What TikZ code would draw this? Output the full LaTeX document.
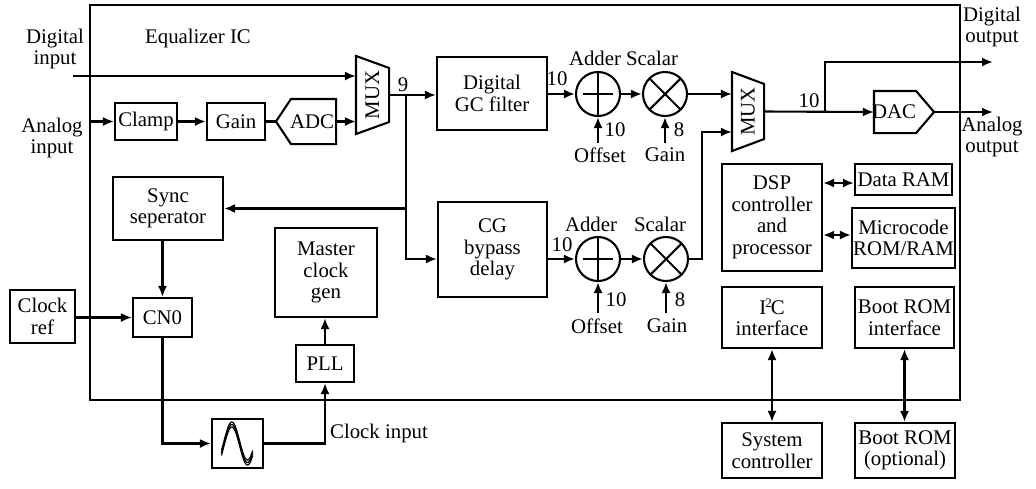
\documentclass[tikz,border=0pt]{standalone}
\usepackage{fontspec}
\setmainfont{Liberation Serif}
\usetikzlibrary{arrows.meta,calc}
\begin{document}
\begin{tikzpicture}[x=0.5pt,y=-0.5pt, line width=1.05pt,
  every node/.style={font=\fontsize{10.4}{10.8}\selectfont},
  box/.style={draw, line width=1.05pt, align=center, inner sep=0pt},
  arr/.style={-{Latex[length=5.5pt,width=4.5pt]}},
  darr/.style={{Latex[length=5.5pt,width=4.5pt]}-{Latex[length=5.5pt,width=4.5pt]}},
  lbl/.style={align=center, inner sep=0pt},
  hold/.style={inner sep=0pt},
  adder/.style={circle, draw, minimum size=22pt, inner sep=0pt,
    path picture={
      \draw ([xshift=-7.5pt]path picture bounding box.center) -- ([xshift=7.5pt]path picture bounding box.center);
      \draw ([yshift=-11pt]path picture bounding box.center) -- ([yshift=11pt]path picture bounding box.center);}},
  scalar/.style={circle, draw, minimum size=22pt, inner sep=0pt,
    path picture={
      \draw (path picture bounding box.north west) -- (path picture bounding box.south east);
      \draw (path picture bounding box.south west) -- (path picture bounding box.north east);}}
]
\useasboundingbox (0,0) rectangle (1036,488);

% IC outline
\node[box, minimum width=435pt, minimum height=197.5pt] (ic) at (525,202.5) {};
\node[lbl] (eqic) at (198,38) {Equalizer IC};

% outside labels
\node[lbl] (dinl) at (55,49) {Digital\\input};
\node[lbl] (ainl) at (52,138) {Analog\\input};
\node[lbl] (doutl) at (992,27) {Digital\\output};
\node[lbl] (aoutl) at (992,137) {Analog\\output};

% analog front end
\node[box, minimum width=31pt, minimum height=18.5pt] (clamp) at (146,121.5) {Clamp};
\node[box, minimum width=29pt, minimum height=18.5pt] (gain) at (236,121.5) {Gain};
\node[hold, minimum width=29pt, minimum height=21.5pt] (adc) at (306,121.5) {};
\draw (adc.west) -- ($(adc.north west)+(15,0)$) -- (adc.north east) -- (adc.south east) -- ($(adc.south west)+(15,0)$) -- cycle;
\node[lbl] (adct) at (312,122) {ADC};

% MUX 1
\node[hold, minimum width=15.5pt, minimum height=38pt] (mux1) at (372.5,95) {};
\draw (mux1.north west) -- ($(mux1.north east)+(0,12)$) -- ($(mux1.south east)+(0,-12)$) -- (mux1.south west) -- cycle;
\node[lbl, rotate=90] (mux1t) at (mux1) {MUX};
\node[lbl] (l9) at (403,85) {9};

% filters
\node[box, minimum width=55pt, minimum height=36.5pt] (dgc) at (492,93.5) {Digital\\GC filter};
\node[box, minimum width=54.5pt, minimum height=47.5pt] (cg) at (492.5,249.5) {CG\\bypass\\delay};

% upper adder/scalar
\node[adder] (adder1) at (598,94) {};
\node[scalar] (scalar1) at (665,94) {};
\node[lbl] (l10a) at (557,79) {10};
\node[lbl] (adl1) at (595,58) {Adder};
\node[lbl] (scl1) at (652,58) {Scalar};
\node[lbl] (l10b) at (615,130) {10};
\node[lbl] (l8a) at (679,130) {8};
\node[lbl] (off1) at (600,155) {Offset};
\node[lbl] (gn1) at (665,155) {Gain};
\coordinate (o1) at (598,143);
\coordinate (g1) at (665,143);

% lower adder/scalar
\node[adder] (adder2) at (598,259) {};
\node[scalar] (scalar2) at (666,259) {};
\node[lbl] (l10c) at (562,245) {10};
\node[lbl] (adl2) at (591,224) {Adder};
\node[lbl] (scl2) at (660,224) {Scalar};
\node[lbl] (l10d) at (616,300) {10};
\node[lbl] (l8b) at (680,300) {8};
\node[lbl] (off2) at (597,326) {Offset};
\node[lbl] (gn2) at (667,326) {Gain};
\coordinate (o2) at (598,313);
\coordinate (g2) at (666,313);

% MUX 2
\node[hold, minimum width=15pt, minimum height=38.5pt] (mux2) at (748,111.5) {};
\draw (mux2.north west) -- ($(mux2.north east)+(0,12)$) -- ($(mux2.south east)+(0,-12)$) -- (mux2.south west) -- cycle;
\node[lbl, rotate=90] (mux2t) at (mux2) {MUX};
\node[lbl] (l10e) at (809,101) {10};

% DAC
\node[hold, minimum width=29pt, minimum height=20pt] (dac) at (904,112) {};
\draw (dac.north west) -- ($(dac.north east)+(-18,0)$) -- (dac.east) -- ($(dac.south east)+(-18,0)$) -- (dac.south west) -- cycle;
\node[lbl] (dact) at (894,112) {DAC};

% clock section
\node[box, minimum width=55pt, minimum height=31.5pt] (sync) at (168,208.5) {Sync\\seperator};
\node[box, minimum width=29.5pt, minimum height=19.5pt] (cn0) at (162.5,317.5) {CN0};
\node[box, minimum width=32.5pt, minimum height=26.5pt] (clkref) at (42.5,316.5) {Clock\\ref};
\node[box, minimum width=51pt, minimum height=44.5pt] (mcg) at (326,272.5) {Master\\clock\\gen};
\node[box, minimum width=29pt, minimum height=18.5pt] (pll) at (325,363.5) {PLL};
\node[box, minimum width=25.5pt, minimum height=24.5pt] (osc) at (237.5,443.5) {};
\begin{scope}[shift={(osc.center)}, line width=0.6pt]
  \foreach \dy in {-2.5,0,2.5}
    \draw plot[domain=-30:330, samples=40, smooth] ({\x/11.5-13.5}, {-19*sin(\x)+\dy});
\end{scope}
\node[lbl] (clkin) at (379,433) {Clock input};

% DSP section
\node[box, minimum width=50pt, minimum height=53.5pt] (dsp) at (772,217.5) {DSP\\controller\\and\\processor};
\node[box, minimum width=48.5pt, minimum height=15.5pt] (dram) at (903.5,179.5) {Data RAM};
\node[box, minimum width=51.5pt, minimum height=30pt] (mram) at (903.5,238) {Microcode\\ROM/RAM};
\node[box, minimum width=50pt, minimum height=30.5pt] (i2c) at (772,317.5) {I\kern-0.5pt\raisebox{0.7ex}{\fontsize{6.5}{6.5}\selectfont 2}\kern-0.5pt C\\interface};
\node[box, minimum width=49.5pt, minimum height=30.5pt] (bri) at (904.5,317.5) {Boot ROM\\interface};
\node[box, minimum width=50pt, minimum height=27.5pt] (sysc) at (772,450.5) {System\\controller};
\node[box, minimum width=50pt, minimum height=27.5pt] (brom) at (905,450.5) {Boot ROM\\(optional)};

% coordinates
\coordinate (din) at (73,76);
\coordinate (ain) at (90,121.5);
\coordinate (br) at (406,95);
\coordinate (m2in) at (702,132);
\coordinate (br2) at (825,112);
\coordinate (dout) at (993,62);
\coordinate (y183) at (0,183);
\coordinate (y235) at (0,235);

% connectors
\draw[arr] (din) -- (din -| mux1.west);
\draw[arr] (ain) -- (clamp.west);
\draw[arr] (clamp.east) -- (gain.west);
\draw (gain.east) -- (adc.west);
\draw[arr] (adc.east) -- (adc.east -| mux1.west);
\draw[arr] (mux1.east) -- (mux1.east -| dgc.west);
\draw[arr] (br) |- (cg.west |- adder2);
\draw[arr] (br |- sync.east) -- (sync.east);
\draw[arr] (dgc.east |- adder1) -- (adder1.west);
\draw[arr] (adder1.east) -- (scalar1.west);
\draw[arr] (scalar1.east) -- (scalar1.east -| mux2.west);
\draw[arr] (o1) -- (adder1.south);
\draw[arr] (g1) -- (scalar1.south);
\draw[arr] (cg.east |- adder2) -- (adder2.west);
\draw[arr] (adder2.east) -- (scalar2.west);
\draw[arr] (o2) -- (adder2.south);
\draw[arr] (g2) -- (scalar2.south);
\draw[arr] (scalar2.east) -| (m2in) -- (m2in -| mux2.west);
\draw[arr] (mux2.east) -- (dac.west);
\draw[arr] (br2) |- (dout);
\draw[arr] (dac.east) -- (dac.east -| dout);
\draw[arr] (cn0.north |- sync.south) -- (cn0.north);
\draw[arr] (clkref.east |- cn0) -- (cn0.west);
\draw[arr] (cn0.south) |- (osc.west);
\draw[arr] (osc.east) -| (pll.south);
\draw[arr] (pll.north) -- (pll.north |- mcg.south);
\draw[darr] (dsp.east |- y183) -- (dram.west |- y183);
\draw[darr] (dsp.east |- y235) -- (mram.west |- y235);
\draw[darr] (i2c.south) -- (sysc.north);
\draw[darr] (bri.south) -- (bri.south |- brom.north);
\end{tikzpicture}
\end{document}
